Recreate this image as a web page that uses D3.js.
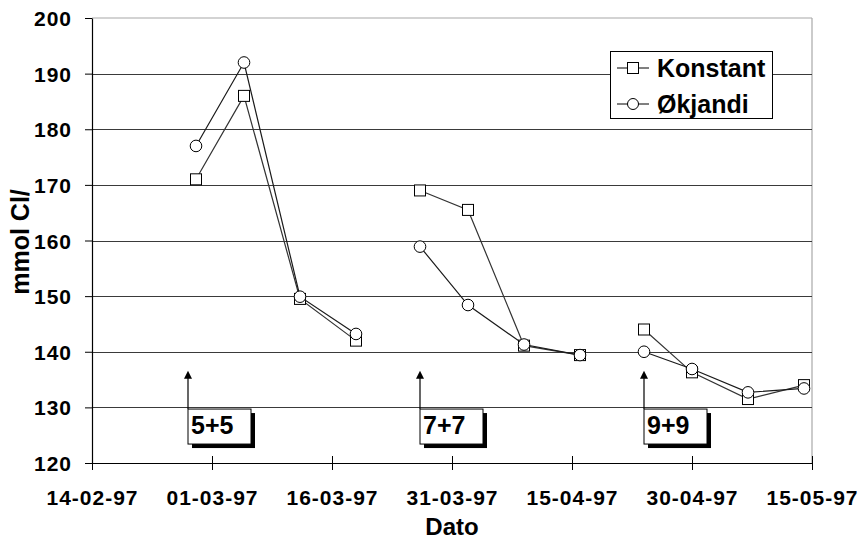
<!DOCTYPE html>
<html>
<head>
<meta charset="utf-8">
<script src="https://cdn.jsdelivr.net/npm/d3@7"></script>
<style>
  html, body { margin: 0; padding: 0; background: #ffffff; }
  svg { display: block; font-family: "Liberation Sans", Arial, sans-serif; font-weight: bold; }
</style>
</head>
<body>
<svg id="chart" width="860" height="540"></svg>
<script>
// ---- data ----
const dates = ["27-02-97","05-03-97","12-03-97","19-03-97",
               "27-03-97","02-04-97","09-04-97","16-04-97",
               "24-04-97","30-04-97","07-05-97","14-05-97"];
const groups = [0,0,0,0, 1,1,1,1, 2,2,2,2];
const konstant = [171, 186, 149.5, 142,  169, 165.5, 141.1, 139.4,  144, 136.3, 131.5, 134];
const okjandi  = [177, 192, 149.9, 143.2, 158.9, 148.4, 141.3, 139.4, 140, 136.9, 132.7, 133.4];
const xTickLabels = ["14-02-97","01-03-97","16-03-97","31-03-97","15-04-97","30-04-97","15-05-97"];
const yTicks = [120,130,140,150,160,170,180,190,200];
const seriesNames = ["Konstant","Økjandi"];
const annotationLabels = ["5+5","7+7","9+9"];
const annotationDates = ["26-02-97","27-03-97","24-04-97"];
const annotationFrom = 129.7, annotationTo = 136.6;

// ---- setup ----
const parse = d3.utcParse("%d-%m-%y");
const svg = d3.select("#chart");
const W = 860, H = 540;
svg.append("rect").attr("width", W).attr("height", H).attr("fill", "#ffffff");

const x = d3.scaleUtc().domain([parse("14-02-97"), parse("15-05-97")]).range([92, 812]);
const y = d3.scaleLinear().domain([120, 200]).range([463, 18]);

// plot border (top & right, light gray)
svg.append("line").attr("x1", x.range()[0]).attr("x2", x.range()[1])
  .attr("y1", y(200)).attr("y2", y(200)).attr("stroke", "#a8a8a8").attr("stroke-width", 1.2);
svg.append("line").attr("x1", x.range()[1]).attr("x2", x.range()[1])
  .attr("y1", y(200)).attr("y2", y(120)).attr("stroke", "#a8a8a8").attr("stroke-width", 1.2);

// gridlines
svg.append("g").selectAll("line").data(yTicks.filter(v => v > 120 && v < 200)).join("line")
  .attr("x1", x.range()[0]).attr("x2", x.range()[1])
  .attr("y1", d => Math.round(y(d)) + 0.5).attr("y2", d => Math.round(y(d)) + 0.5)
  .attr("stroke", "#3a3a3a").attr("stroke-width", 1.1);

// y axis
const yAxis = svg.append("g").attr("transform", `translate(${x.range()[0]},0)`)
  .call(d3.axisLeft(y).tickValues(yTicks).tickSize(7).tickSizeOuter(0).tickPadding(13).tickFormat(d3.format("d")));
yAxis.select(".domain").attr("stroke", "#000").attr("stroke-width", 1.2);
yAxis.selectAll(".tick line").attr("stroke", "#000");
yAxis.selectAll(".tick text").attr("font-size", 21).attr("font-family", "Liberation Sans, Arial, sans-serif")
  .attr("font-weight", "bold").attr("fill", "#000").attr("letter-spacing", 1).attr("dy", "0.36em");

// x axis
const xAxis = svg.append("g").attr("transform", `translate(0,${y(120)})`)
  .call(d3.axisBottom(x).tickValues(xTickLabels.map(parse)).tickSize(7).tickSizeOuter(0)
    .tickFormat(d3.utcFormat("%d-%m-%y")));
xAxis.select(".domain").attr("stroke", "#000").attr("stroke-width", 1.2);
xAxis.selectAll(".tick line").attr("stroke", "#000").attr("y1", -7).attr("y2", 7);
xAxis.selectAll(".tick text").attr("font-size", 21).attr("font-family", "Liberation Sans, Arial, sans-serif")
  .attr("font-weight", "bold").attr("fill", "#000").attr("letter-spacing", 1)
  .attr("y", 42).attr("dy", 0);

// axis titles
svg.append("text").attr("x", 452).attr("y", 535).attr("text-anchor", "middle")
  .attr("font-size", 24).attr("fill", "#000").text("Dato");
svg.append("text").attr("transform", "translate(29,242) rotate(-90)").attr("text-anchor", "middle")
  .attr("font-size", 25).attr("fill", "#000").text("mmol Cl/");

// annotations
annotationLabels.forEach((lab, i) => {
  const ax = x(parse(annotationDates[i]));
  const yTop = y(annotationTo), yBase = y(annotationFrom);
  const g = svg.append("g");
  g.append("line").attr("x1", ax).attr("x2", ax).attr("y1", yBase).attr("y2", yTop + 7)
    .attr("stroke", "#000").attr("stroke-width", 1.2);
  g.append("path").attr("d", `M${ax},${yTop} L${ax - 4},${yTop + 8} L${ax + 4},${yTop + 8} Z`).attr("fill", "#000");
  const bx = ax, by = yBase, bw = 63, bh = 35;
  g.append("rect").attr("x", bx + 4).attr("y", by + 4).attr("width", bw).attr("height", bh).attr("fill", "#000");
  g.append("rect").attr("x", bx).attr("y", by).attr("width", bw).attr("height", bh)
    .attr("fill", "#fff").attr("stroke", "#000").attr("stroke-width", 1);
  g.append("text").attr("x", bx + 3).attr("y", by + 25).attr("font-size", 25).attr("fill", "#000").text(lab);
});

// series
const pts = name => dates.map((d, i) => ({ date: parse(d), v: name === "Konstant" ? konstant[i] : okjandi[i], g: groups[i] }));
const line = d3.line().x(d => x(d.date)).y(d => y(d.v));
const drawSeries = (name, color) => {
  const data = pts(name);
  const grp = d3.groups(data, d => d.g);
  const g = svg.append("g");
  grp.forEach(([k, arr]) => {
    g.append("path").datum(arr).attr("d", line).attr("fill", "none").attr("stroke", color).attr("stroke-width", 1.2);
  });
  return { g, data };
};
const sK = drawSeries("Konstant", "#333");
const sO = drawSeries("Økjandi", "#1a1a1a");

sK.g.selectAll("rect").data(sK.data).join("rect")
  .attr("x", d => x(d.date) - 5.5).attr("y", d => y(d.v) - 5.5).attr("width", 11).attr("height", 11)
  .attr("fill", "#fff").attr("stroke", "#000").attr("stroke-width", 1);
sO.g.selectAll("circle").data(sO.data).join("circle")
  .attr("cx", d => x(d.date)).attr("cy", d => y(d.v)).attr("r", 5.8)
  .attr("fill", "#fff").attr("stroke", "#000").attr("stroke-width", 1);

// legend
const lg = svg.append("g");
lg.append("rect").attr("x", 610.5).attr("y", 51.5).attr("width", 162).attr("height", 67)
  .attr("fill", "#fff").attr("stroke", "#000").attr("stroke-width", 1);
seriesNames.forEach((nm, i) => {
  const ly = 68 + i * 36;
  lg.append("line").attr("x1", 617).attr("x2", 649).attr("y1", ly).attr("y2", ly).attr("stroke", "#000");
  if (i === 0) {
    lg.append("rect").attr("x", 633 - 5.5).attr("y", ly - 5.5).attr("width", 11).attr("height", 11)
      .attr("fill", "#fff").attr("stroke", "#000");
  } else {
    lg.append("circle").attr("cx", 633).attr("cy", ly).attr("r", 5.5).attr("fill", "#fff").attr("stroke", "#000");
  }
  lg.append("text").attr("x", 657).attr("y", ly + 9).attr("font-size", 25).attr("fill", "#000").text(nm);
});
</script>
</body>
</html>
